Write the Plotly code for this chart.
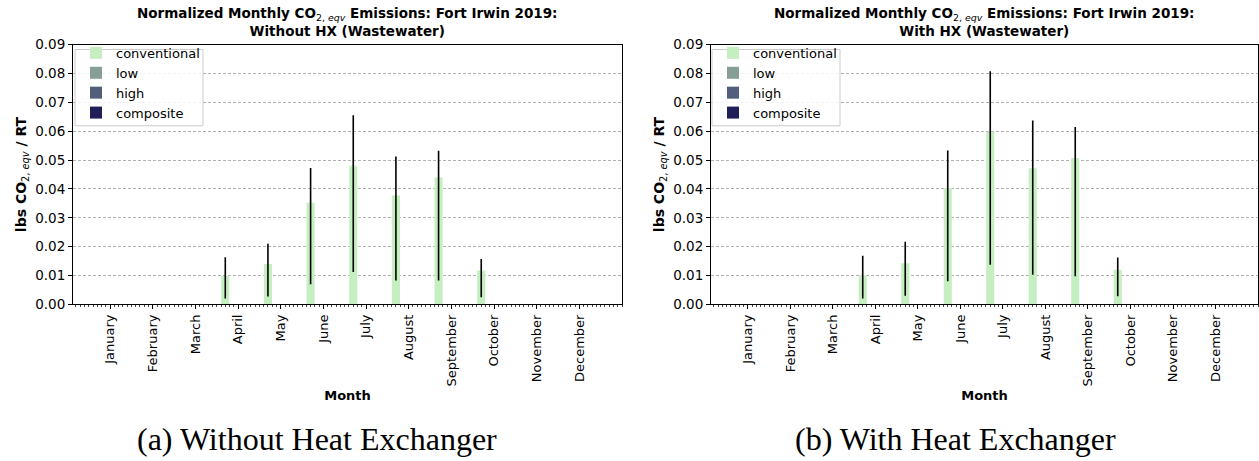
import plotly.graph_objects as go

months = ["January", "February", "March", "April", "May", "June", "July",
          "August", "September", "October", "November", "December"]
series_names = ["conventional", "low", "high", "composite"]
series_colors = ["#c5efc0", "#869e94", "#525e7b", "#201f5a"]
series_offsets = [-0.3, -0.1, 0.1, 0.3]

# Panel (a): Without HX
conv_a = [0, 0, 0, 0.0098, 0.0140, 0.0352, 0.0480, 0.0377, 0.0440, 0.0117, 0, 0]
conv_a_hi = [0, 0, 0, 0.0163, 0.0210, 0.0473, 0.0655, 0.0512, 0.0532, 0.0157, 0, 0]
conv_a_lo = [0, 0, 0, 0.0020, 0.0027, 0.0070, 0.0112, 0.0083, 0.0083, 0.0025, 0, 0]

# Panel (b): With HX
conv_b = [0, 0, 0, 0.0100, 0.0142, 0.0402, 0.0598, 0.0472, 0.0507, 0.0120, 0, 0]
conv_b_hi = [0, 0, 0, 0.0168, 0.0217, 0.0533, 0.0808, 0.0637, 0.0615, 0.0162, 0, 0]
conv_b_lo = [0, 0, 0, 0.0020, 0.0030, 0.0080, 0.0137, 0.0103, 0.0097, 0.0028, 0, 0]

zeros = [0] * 12

titles = [
    "<b>Normalized Monthly CO</b><sub>2, <i>eqv</i></sub><b> Emissions: Fort Irwin 2019:</b><br><b>Without HX (Wastewater)</b>",
    "<b>Normalized Monthly CO</b><sub>2, <i>eqv</i></sub><b> Emissions: Fort Irwin 2019:</b><br><b>With HX (Wastewater)</b>",
]
captions = ["(a) Without Heat Exchanger", "(b) With Heat Exchanger"]

W, H = 1259, 461
panels_px = [(73, 622), (711, 1258)]
caption_cx = [317, 955]
legend_box_px = [(75, 203), (712, 840)]
top_px, bot_px = 38, 307

fig = go.Figure()
panel_data = [(conv_a, conv_a_hi, conv_a_lo), (conv_b, conv_b_hi, conv_b_lo)]
for p, (conv, hi, lo) in enumerate(panel_data):
    xa = "x" if p == 0 else "x2"
    ya = "y" if p == 0 else "y2"
    leg = "legend" if p == 0 else "legend2"
    for s, name in enumerate(series_names):
        vals = conv if s == 0 else zeros
        xs = [i + series_offsets[s] for i in range(12)]
        kw = {}
        if s == 0:
            kw["error_y"] = dict(type="data", symmetric=False,
                                 array=[h - v for h, v in zip(hi, vals)],
                                 arrayminus=[v - l for v, l in zip(vals, lo)],
                                 color="black", thickness=1.6, width=0)
        fig.add_trace(go.Bar(x=xs, y=vals, width=0.19, name=name,
                             marker=dict(color=series_colors[s], line=dict(width=0)),
                             xaxis=xa, yaxis=ya, legend=leg, **kw))

font_main = "DejaVu Sans"
for p in range(2):
    l, r = panels_px[p]
    xd = [l / W, r / W]
    yd = [1 - bot_px / H, 1 - top_px / H]
    sfx = "" if p == 0 else "2"
    fig.layout["xaxis" + sfx] = dict(
        domain=xd, range=[-0.87, 12.0], anchor="y" + sfx,
        tickmode="array", tickvals=list(range(12)), ticktext=months,
        tickangle=-90, ticks="outside", ticklen=4, tickcolor="black",
        tickfont=dict(family=font_main, size=13, color="black"),
        showline=True, linecolor="black", linewidth=1, mirror=True,
        showgrid=False, zeroline=False,
        minor=dict(dtick=0.1, ticks="outside", ticklen=2, tickcolor="#444", showgrid=False),
        title=dict(text="<b>Month</b>", font=dict(family=font_main, size=13, color="black"), standoff=5),
    )
    fig.layout["yaxis" + sfx] = dict(
        domain=yd, range=[0, 0.09], anchor="x" + sfx,
        tickmode="linear", tick0=0, dtick=0.01, tickformat=".2f",
        ticks="outside", ticklen=4, tickcolor="black",
        tickfont=dict(family=font_main, size=13.5, color="black"),
        showline=True, linecolor="black", linewidth=1, mirror=True,
        showgrid=True, gridcolor="#b0b0b0", griddash="3px,2px", gridwidth=1,
        zeroline=False,
        title=dict(text="<b>lbs CO</b><sub>2, <i>eqv</i></sub><b> / RT</b>",
                   font=dict(family=font_main, size=14, color="black"), standoff=5),
    )
    cx = (l + r) / 2 / W
    fig.add_annotation(text=titles[p], x=cx, y=1 - 14 / H, xref="paper", yref="paper",
                       xanchor="center", yanchor="middle", showarrow=False,
                       font=dict(family=font_main, size=13.5, color="black"))
    fig.add_annotation(text=captions[p], x=caption_cx[p] / W, y=1 - 447 / H, xref="paper", yref="paper",
                       xanchor="center", yanchor="middle", showarrow=False,
                       font=dict(family="Liberation Serif", size=32, color="black"))
    bx0, bx1 = legend_box_px[p]
    fig.add_shape(type="rect", xref="paper", yref="paper",
                  x0=bx0 / W, x1=bx1 / W, y0=1 - 122 / H, y1=1 - 43 / H,
                  fillcolor="rgba(255,255,255,0.85)", line=dict(color="#cccccc", width=1),
                  layer="above")

leg_common = dict(bgcolor="rgba(0,0,0,0)", borderwidth=0,
                  font=dict(family=font_main, size=13, color="black"),
                  xanchor="left", yanchor="top", tracegroupgap=0)
fig.update_layout(
    width=W, height=H, margin=dict(l=0, r=0, t=0, b=0),
    paper_bgcolor="white", plot_bgcolor="white",
    barmode="overlay", showlegend=True,
    legend=dict(x=76 / W, y=1 - 31 / H, **leg_common),
    legend2=dict(x=713 / W, y=1 - 31 / H, **leg_common),
)

fig.write_html("out.html")
